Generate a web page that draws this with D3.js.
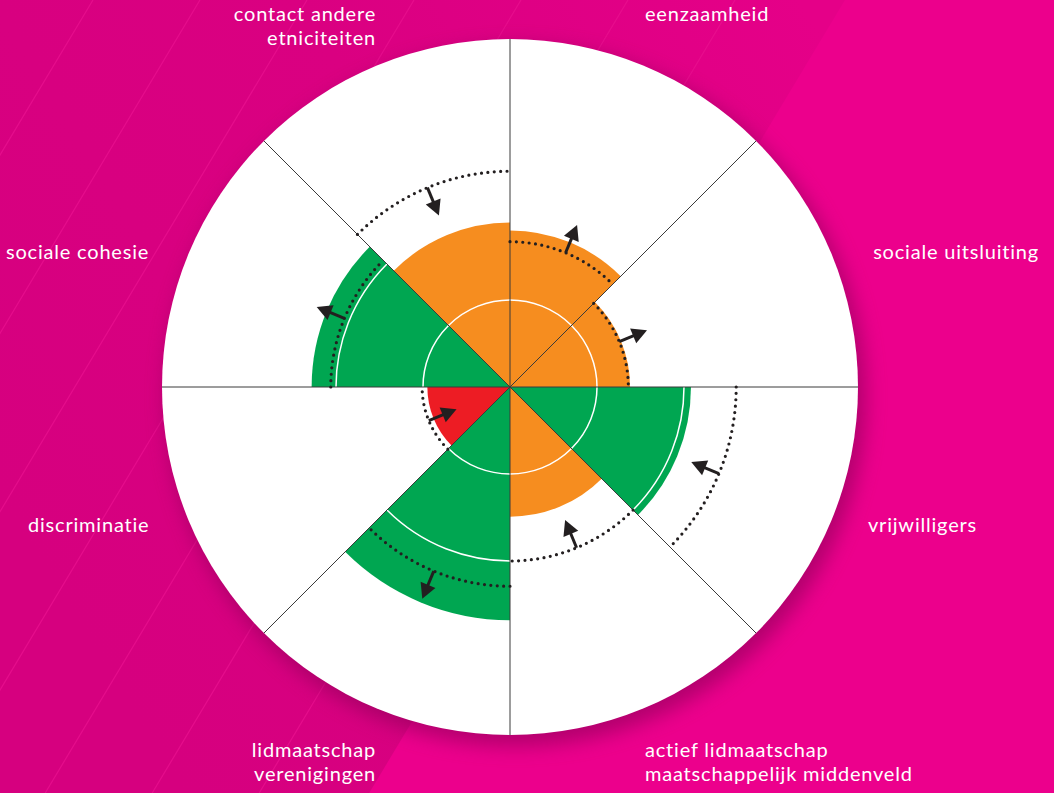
<!DOCTYPE html>
<html>
<head>
<meta charset="utf-8">
<script src="https://cdn.jsdelivr.net/npm/d3@7"></script>
<style>
  body { margin: 0; background: #ec008c; }
  #rose { width: 1054px; height: 793px; }
  text { font-family: Lato, "Open Sans", sans-serif; }
</style>
</head>
<body>
<div id="rose"></div>
<script>
// -------------------------------
// Data
// -------------------------------
const categories = [
  "eenzaamheid",
  "sociale uitsluiting",
  "vrijwilligers",
  "actief lidmaatschap maatschappelijk middenveld",
  "lidmaatschap verenigingen",
  "discriminatie",
  "sociale cohesie",
  "contact andere etniciteiten",
];
const labelLines = [
  ["eenzaamheid"],
  ["sociale uitsluiting"],
  ["vrijwilligers"],
  ["actief lidmaatschap", "maatschappelijk middenveld"],
  ["lidmaatschap", "verenigingen"],
  ["discriminatie"],
  ["sociale cohesie"],
  ["contact andere", "etniciteiten"],
];
// current value (coloured sector) and reference value (dotted arc)
const values = [1.80, 1.38, 2.08, 1.49, 2.68, 0.95, 2.28, 1.89];
const references = [1.67, 1.36, 2.60, 2.00, 2.29, 1.01, 2.06, 2.48];
// +1 = arrow points outward, -1 = arrow points inward
const trends = [1, 1, -1, -1, 1, -1, 1, -1];
const status = ["orange", "orange", "green", "orange", "green", "red", "green", "orange"];
const gridTicks = [1, 2, 3];

// -------------------------------
// Layout
// -------------------------------
const width = 1054;
const height = 793;
const cx = 510;
const cy = 387;
const outerR = 348;

const colors = { orange: "#f68d1f", green: "#00a651", red: "#ed1c24" };

// label placement: anchor, x, first baseline
const labelPos = [
  { anchor: "start", x: 645, y: 21 },
  { anchor: "end", x: 1039, y: 259 },
  { anchor: "end", x: 977, y: 532 },
  { anchor: "start", x: 645, y: 757 },
  { anchor: "end", x: 376, y: 757 },
  { anchor: "start", x: 28, y: 532 },
  { anchor: "start", x: 6, y: 259 },
  { anchor: "end", x: 376, y: 21 },
];

const svg = d3.select("#rose")
  .append("svg")
  .attr("width", width)
  .attr("height", height);

const defs = svg.append("defs");
const shadow = defs.append("filter")
  .attr("id", "shadow")
  .attr("x", "-20%").attr("y", "-20%")
  .attr("width", "140%").attr("height", "140%");
shadow.append("feGaussianBlur").attr("stdDeviation", 10);

const bgGrad = defs.append("linearGradient")
  .attr("id", "bgGrad")
  .attr("gradientUnits", "userSpaceOnUse")
  .attr("x1", 0).attr("y1", 500)
  .attr("x2", 800).attr("y2", 0);
bgGrad.append("stop").attr("offset", "0%").attr("stop-color", "#d6007f");
bgGrad.append("stop").attr("offset", "55%").attr("stop-color", "#da0081");
bgGrad.append("stop").attr("offset", "100%").attr("stop-color", "#e50088");

// -------------------------------
// Background
// -------------------------------
svg.append("rect")
  .attr("width", width).attr("height", height)
  .attr("fill", "#ec008c");

const slope = 0.6;
svg.append("polygon")
  .attr("points", [[0, 0], [845, 0], [845 - slope * height, height], [0, height]].join(" "))
  .attr("fill", "url(#bgGrad)");

svg.append("g")
  .selectAll("line")
  .data([93, 200, 307, 414, 521, 628, 735])
  .join("line")
  .attr("x1", (d) => d).attr("y1", 0)
  .attr("x2", (d) => d - slope * height).attr("y2", height)
  .attr("stroke", "#e9108f")
  .attr("stroke-opacity", 0.8)
  .attr("stroke-width", 1.2);

// -------------------------------
// Chart
// -------------------------------
const chart = svg.append("g").attr("transform", `translate(${cx},${cy})`);

const rScale = d3.scaleLinear().domain([0, 4]).range([0, outerR]);
const step = (2 * Math.PI) / categories.length;

chart.append("circle")
  .attr("cx", 6).attr("cy", 9)
  .attr("r", outerR + 2)
  .attr("fill", "#8a0058")
  .attr("opacity", 0.6)
  .attr("filter", "url(#shadow)");

chart.append("circle")
  .attr("r", outerR)
  .attr("fill", "#ffffff");

const arcGen = d3.arc()
  .innerRadius(0)
  .outerRadius((d) => rScale(d.value))
  .startAngle((d) => d.i * step)
  .endAngle((d) => (d.i + 1) * step);

const sectorData = values.map((v, i) => ({ i, value: v, color: colors[status[i]] }));

chart.append("g")
  .selectAll("path")
  .data(sectorData)
  .join("path")
  .attr("d", arcGen)
  .attr("fill", (d) => d.color);

// white grid rings
chart.append("g")
  .selectAll("circle")
  .data(gridTicks)
  .join("circle")
  .attr("r", (d) => rScale(d))
  .attr("fill", "none")
  .attr("stroke", "#ffffff")
  .attr("stroke-width", 1.5);

// spokes
chart.append("g")
  .selectAll("line")
  .data(d3.range(categories.length))
  .join("line")
  .attr("x1", 0).attr("y1", 0)
  .attr("x2", (i) => outerR * Math.sin(i * step))
  .attr("y2", (i) => -outerR * Math.cos(i * step))
  .attr("stroke", "#3a3a3a")
  .attr("stroke-width", 1);

// dotted reference arcs (open arcs only)
chart.append("g")
  .selectAll("path")
  .data(references.map((v, i) => ({ i, value: v })))
  .join("path")
  .attr("d", (d) => {
    const r = rScale(d.value);
    const a0 = d.i * step;
    const a1 = (d.i + 1) * step;
    return `M${r * Math.sin(a0)},${-r * Math.cos(a0)}A${r},${r} 0 0 1 ${r * Math.sin(a1)},${-r * Math.cos(a1)}`;
  })
  .attr("fill", "none")
  .attr("stroke", "#231f20")
  .attr("stroke-width", 3.2)
  .attr("stroke-linecap", "round")
  .attr("stroke-dasharray", "0 6.4");

// trend arrows at the middle of each sector
const arrowLen = 30;
const headLen = 15;
const headHalf = 8;
const arrows = chart.append("g");
references.forEach((v, i) => {
  const a = (i + 0.5) * step;
  const ux = Math.sin(a);
  const uy = -Math.cos(a);
  const r0 = rScale(v);
  const r1 = r0 + trends[i] * arrowLen;
  const rh = r1 - trends[i] * headLen;
  const px = -uy;
  const py = ux;
  arrows.append("line")
    .attr("x1", r0 * ux).attr("y1", r0 * uy)
    .attr("x2", (rh + trends[i] * 2) * ux).attr("y2", (rh + trends[i] * 2) * uy)
    .attr("stroke", "#231f20")
    .attr("stroke-width", 3);
  arrows.append("polygon")
    .attr("points", [
      [r1 * ux, r1 * uy],
      [rh * ux + headHalf * px, rh * uy + headHalf * py],
      [rh * ux - headHalf * px, rh * uy - headHalf * py],
    ].join(" "))
    .attr("fill", "#231f20");
});

// -------------------------------
// Labels
// -------------------------------
const labels = svg.append("g")
  .attr("fill", "#ffffff")
  .attr("font-size", 20)
  .attr("letter-spacing", 0.8);

labelLines.forEach((lines, i) => {
  const p = labelPos[i];
  const t = labels.append("text")
    .attr("text-anchor", p.anchor)
    .attr("x", p.x)
    .attr("y", p.y);
  lines.forEach((line, j) => {
    t.append("tspan")
      .attr("x", p.x)
      .attr("dy", j === 0 ? 0 : 23.5)
      .text(line);
  });
});
</script>
</body>
</html>
